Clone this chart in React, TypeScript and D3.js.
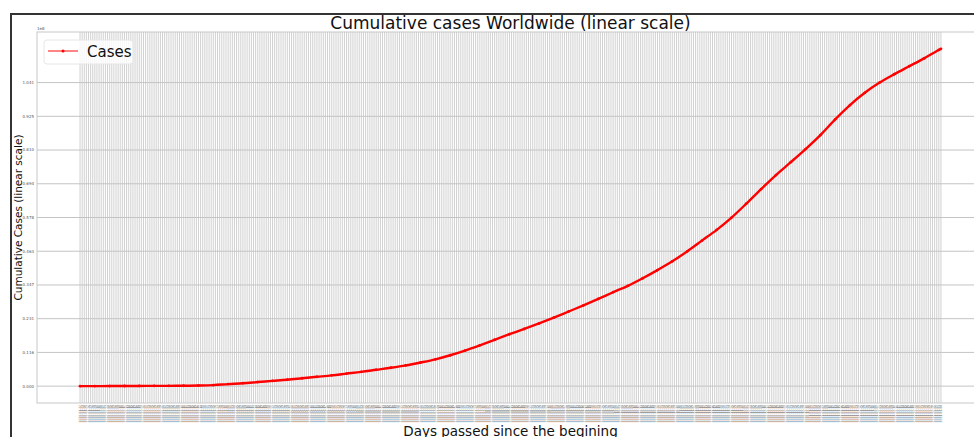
import React from "react";
import * as d3 from "d3";

// ---- data ----
const startDate = new Date(2020, 0, 22);
const dayCount = 408; // days 0..407
const dayLabels: string[] = d3
  .range(dayCount)
  .map((i) => d3.timeFormat("%Y-%m-%d")(d3.timeDay.offset(startDate, i)));

const sampleDays = [
  0, 7, 14, 21, 28, 35, 42, 49, 56, 63, 70, 77, 84, 91, 98, 105, 112, 119, 126,
  133, 140, 147, 154, 161, 168, 175, 182, 189, 196, 203, 210, 217, 224, 231,
  238, 245, 252, 259, 266, 273, 280, 287, 294, 301, 308, 315, 322, 329, 336,
  343, 350, 357, 364, 371, 378, 385, 392, 399, 406, 407,
];
// cumulative cases, millions
const casesMillions = [
  0.0006, 0.006, 0.028, 0.043, 0.071, 0.078, 0.098, 0.125, 0.197, 0.35, 0.7,
  1.0, 1.4, 1.8, 2.2, 2.7, 3.2, 3.7, 4.3, 4.9, 5.6, 6.3, 7.1, 8.1, 9.2, 10.6,
  12.2, 14.0, 15.9, 17.8, 19.6, 21.5, 23.5, 25.6, 27.7, 29.9, 32.2, 34.4, 37.0,
  39.8, 42.8, 46.2, 49.9, 53.6, 57.8, 62.6, 67.6, 72.4, 76.8, 81.3, 86.1, 91.5,
  96.4, 100.6, 104.1, 107.0, 109.7, 112.4, 115.3, 115.67,
];
const yTickLabels = [
  "0.000", "0.116", "0.231", "0.347", "0.463", "0.578", "0.694", "0.810", "0.925", "1.041",
];
const yTickStep = 115.67 / 10; // millions

const FONT = "DejaVu Sans, sans-serif";

export default function App() {
  const W = 974;
  const H = 437;
  const ax = { left: 37, top: 32, bottom: 403, right: 984 };
  const maxDay = dayCount - 1;
  const maxV = d3.max(casesMillions) as number;
  const x = d3
    .scaleLinear()
    .domain([-0.05 * maxDay, maxDay * 1.05])
    .range([ax.left, ax.right]);
  const y = d3
    .scaleLinear()
    .domain([-0.05 * maxV, maxV * 1.05])
    .range([ax.bottom, ax.top]);

  const pts = sampleDays.map((d, i) => [d, casesMillions[i]] as [number, number]);
  const line = d3
    .line<[number, number]>()
    .x((p) => x(p[0]))
    .y((p) => y(p[1]))
    .curve(d3.curveMonotoneX);

  const cx = (ax.left + ax.right) / 2;

  return (
    <svg
      width={W}
      height={H}
      style={{ position: "fixed", left: 0, top: 0, background: "#fff" }}
      fontFamily={FONT}
    >
      <rect x={0} y={0} width={W} height={H} fill="#fff" />
      {/* figure frame */}
      <rect x={11} y={14} width={W + 20} height={H + 20} fill="none" stroke="#333" strokeWidth={2} />
      {/* axes background */}
      <rect x={ax.left} y={ax.top} width={ax.right - ax.left} height={ax.bottom - ax.top} fill="#fff" />
      {/* vertical daily gridlines */}
      <g stroke="#b8b8b8" strokeWidth={0.8} opacity={0.8}>
        {dayLabels.map((_, i) => (
          <line key={i} x1={x(i)} x2={x(i)} y1={ax.top} y2={ax.bottom} />
        ))}
      </g>
      {/* horizontal gridlines */}
      <g stroke="#c4c4c4" strokeWidth={1}>
        {yTickLabels.map((_, i) => (
          <line key={i} x1={ax.left} x2={ax.right} y1={y(i * yTickStep)} y2={y(i * yTickStep)} />
        ))}
      </g>
      {/* spines */}
      <rect
        x={ax.left}
        y={ax.top}
        width={ax.right - ax.left}
        height={ax.bottom - ax.top}
        fill="none"
        stroke="#c8c8c8"
        strokeWidth={1}
      />
      {/* y tick labels */}
      <g fontSize={4} fill="#555" textAnchor="end">
        {yTickLabels.map((t, i) => (
          <text key={t} x={ax.left - 3} y={y(i * yTickStep) + 1.4}>
            {t}
          </text>
        ))}
      </g>
      <text x={ax.left} y={ax.top - 2} fontSize={4} fill="#555">
        1e8
      </text>
      {/* x tick labels */}
      <g fontSize={3} fill="#555" textAnchor="end">
        {dayLabels.map((t, i) => (
          <text key={i} transform={`translate(${x(i) + 1},${ax.bottom + 2}) rotate(-90)`}>
            {t}
          </text>
        ))}
      </g>
      {/* data line */}
      <path d={line(pts) || ""} fill="none" stroke="#ff0000" strokeWidth={2.4} />
      <g fill="#ff0000">
        {pts.map((p, i) => (
          <circle key={i} cx={x(p[0])} cy={y(p[1])} r={1.4} />
        ))}
      </g>
      {/* title & labels */}
      <text x={cx} y={29} fontSize={17} textAnchor="middle" fill="#111">
        Cumulative cases Worldwide (linear scale)
      </text>
      <text
        transform={`translate(22,${(ax.top + ax.bottom) / 2}) rotate(-90)`}
        fontSize={10.5}
        textAnchor="middle"
        fill="#111"
      >
        Cumulative Cases (linear scale)
      </text>
      <text x={cx} y={436} fontSize={13.5} textAnchor="middle" fill="#111">
        Days passed since the begining
      </text>
      {/* legend */}
      <rect x={44} y={40} width={89} height={24} rx={3} fill="#fff" fillOpacity={0.8} stroke="#e6e6e6" />
      <line x1={48} x2={78} y1={51} y2={51} stroke="#ff0000" strokeWidth={1.2} opacity={0.8} />
      <circle cx={63} cy={51} r={1.5} fill="#ff0000" />
      <text x={87} y={57} fontSize={15} fill="#111">
        Cases
      </text>
    </svg>
  );
}
